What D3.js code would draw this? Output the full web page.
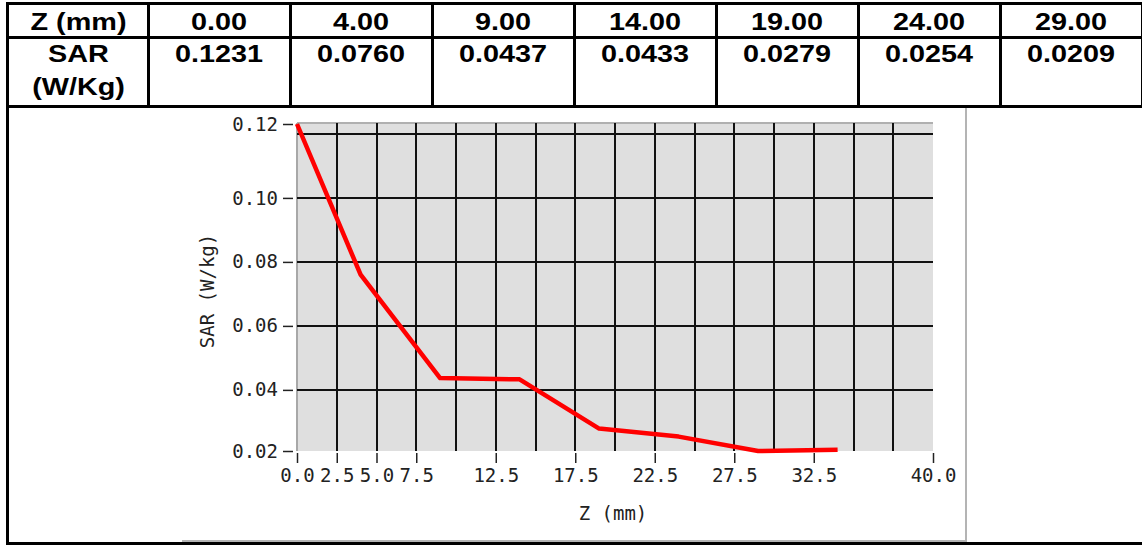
<!DOCTYPE html>
<html>
<head>
<meta charset="utf-8">
<script src="https://cdn.jsdelivr.net/npm/d3@7"></script>
<style>
  html, body { margin: 0; padding: 0; background: #fff; }
  svg { display: block; }
</style>
</head>
<body>
<svg id="chart" width="1142" height="545"></svg>
<script>
(function () {
// ---- Data ----
const tableHeaders = ["Z (mm)", ["SAR", "(W/Kg)"]];
const zValues = [0, 4, 9, 14, 19, 24, 29];
const sarValues = [0.1231, 0.0760, 0.0437, 0.0433, 0.0279, 0.0254, 0.0209];
// plotted curve (the chart continues a little past the last table column)
const plotZ = [0, 4, 9, 14, 19, 24, 29, 34];
const plotSAR = [0.1231, 0.0760, 0.0437, 0.0433, 0.0279, 0.0254, 0.0209, 0.0213];
const xTickValues = [0, 2.5, 5, 7.5, 12.5, 17.5, 22.5, 27.5, 32.5, 40];
const xGridValues = [2.5, 5, 7.5, 10, 12.5, 15, 17.5, 20, 22.5, 25, 27.5, 30, 32.5, 35, 37.5];
const yTickValues = [0.0209, 0.04, 0.06, 0.08, 0.10, 0.1231];
const yGridValues = [0.04, 0.06, 0.08, 0.10, 0.12];
const xTitle = "Z (mm)";
const yTitle = "SAR (W/kg)";

const svg = d3.select("#chart");

// ---- Table ----
const tbl = svg.append("g");
const colScale = d3.scaleLinear().domain([1, 8]).range([148, 148 + 142 * 7]);
const colEdges = [7].concat(d3.range(1, 9).map(i => colScale(i)));
const rowTop = 3, rowMid = 37, rowBot = 106, frameBot = 543;
const lineStyle = s => s.attr("stroke", "#000").attr("stroke-width", 3).attr("shape-rendering", "crispEdges");

[rowTop, rowMid, rowBot, frameBot].forEach(yy => {
  tbl.append("line").attr("x1", 6).attr("x2", 1142).attr("y1", yy).attr("y2", yy).call(lineStyle);
});
tbl.append("line").attr("x1", 7).attr("x2", 7).attr("y1", rowTop).attr("y2", frameBot).call(lineStyle);
colEdges.slice(1).forEach(xx => {
  tbl.append("line").attr("x1", xx).attr("x2", xx).attr("y1", rowTop).attr("y2", rowBot).call(lineStyle);
});

const cellText = (cx, cy, t) => tbl.append("text")
  .attr("transform", `translate(${cx},${cy}) scale(1.2,1)`)
  .attr("text-anchor", "middle")
  .attr("font-family", "'Liberation Sans', Arial, sans-serif")
  .attr("font-weight", "bold")
  .attr("font-size", 24)
  .attr("fill", "#000")
  .text(t);

const firstCenter = (colEdges[0] + colEdges[1]) / 2 + 1;
cellText(firstCenter, 30, tableHeaders[0]);
cellText(firstCenter, 62, tableHeaders[1][0]);
cellText(firstCenter, 95, tableHeaders[1][1]);
zValues.forEach((z, i) => {
  const cx = (colEdges[i + 1] + colEdges[i + 2]) / 2;
  cellText(cx, 30, d3.format(".2f")(z));
  cellText(cx, 62, d3.format(".4f")(sarValues[i]));
});

// ---- Chart picture frame (gray shadow border) ----
svg.append("line").attr("x1", 182).attr("x2", 966).attr("y1", 541).attr("y2", 541)
  .attr("stroke", "#b4b4b4").attr("stroke-width", 2);
svg.append("line").attr("x1", 966).attr("x2", 966).attr("y1", 108).attr("y2", 542)
  .attr("stroke", "#b4b4b4").attr("stroke-width", 2);

// ---- Chart ----
const pL = 297, pR = 933, pT = 124, pB = 451;
const x = d3.scaleLinear().domain([0, 40]).range([pL, pR]);
const y = d3.scaleLinear().domain([0.0209, 0.1231]).range([pB, pT]);

const chart = svg.append("g");
chart.append("rect")
  .attr("x", pL).attr("y", pT - 1)
  .attr("width", pR - pL).attr("height", pB - pT + 1)
  .attr("fill", "#dfdfdf");
chart.append("line").attr("x1", pL).attr("x2", pR).attr("y1", pT - 1).attr("y2", pT - 1)
  .attr("stroke", "#b0b0b0").attr("stroke-width", 2);
chart.append("line").attr("x1", pL).attr("x2", pL).attr("y1", pT - 1).attr("y2", pB)
  .attr("stroke", "#a8a8a8").attr("stroke-width", 2);

// grid
chart.append("g").selectAll("line").data(xGridValues).join("line")
  .attr("x1", d => Math.round(x(d))).attr("x2", d => Math.round(x(d)))
  .attr("y1", pT - 1).attr("y2", pB)
  .attr("stroke", "#111").attr("stroke-width", 2);
chart.append("g").selectAll("line").data(yGridValues).join("line")
  .attr("x1", pL).attr("x2", pR)
  .attr("y1", d => Math.round(y(d))).attr("y2", d => Math.round(y(d)))
  .attr("stroke", "#111").attr("stroke-width", 2);

// axes
const fontFam = "'DejaVu Sans Mono', monospace";
const xAxis = chart.append("g")
  .attr("transform", `translate(0,${pB + 2})`)
  .call(d3.axisBottom(x).tickValues(xTickValues).tickFormat(d3.format(".1f")).tickSize(10).tickPadding(6));
const yAxis = chart.append("g")
  .attr("transform", `translate(${pL - 4},0)`)
  .call(d3.axisLeft(y).tickValues(yTickValues).tickFormat(d3.format(".2f")).tickSize(10).tickPadding(5));
[xAxis, yAxis].forEach(a => {
  a.select(".domain").remove();
  a.selectAll(".tick line").attr("stroke", "#222").attr("stroke-width", 1.5);
  a.selectAll(".tick text").attr("font-family", fontFam).attr("font-size", 19).attr("fill", "#222");
});

// data line
const line = d3.line().x((d, i) => x(plotZ[i])).y(d => y(d));
chart.append("path")
  .datum(plotSAR)
  .attr("d", line)
  .attr("fill", "none")
  .attr("stroke", "#ff0000")
  .attr("stroke-width", 4.5)
  .attr("stroke-linejoin", "round");

// titles
chart.append("text")
  .attr("x", (pL + pR) / 2 - 2).attr("y", 520)
  .attr("text-anchor", "middle")
  .attr("font-family", fontFam).attr("font-size", 19).attr("fill", "#222")
  .text(xTitle);
chart.append("text")
  .attr("transform", `translate(214,291) rotate(-90)`)
  .attr("text-anchor", "middle")
  .attr("font-family", fontFam).attr("font-size", 19).attr("fill", "#222")
  .text(yTitle);
})();
</script>
</body>
</html>
